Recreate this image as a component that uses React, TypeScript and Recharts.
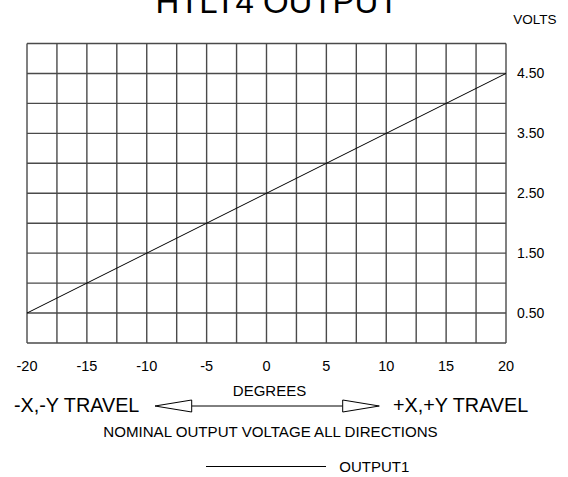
import { LineChart, Line, XAxis, YAxis, CartesianGrid } from 'recharts'

// degrees of travel and the output voltage read at each
const degrees = [-20, -15, -10, -5, 0, 5, 10, 15, 20]
const output1 = [0.5, 1.0, 1.5, 2.0, 2.5, 3.0, 3.5, 4.0, 4.5]

// grid lines every 2.5 deg / 0.5 V, labels only on some of them
const xTicks = [-20, -17.5, -15, -12.5, -10, -7.5, -5, -2.5, 0, 2.5, 5, 7.5, 10, 12.5, 15, 17.5, 20]
const yTicks = [0, 0.5, 1, 1.5, 2, 2.5, 3, 3.5, 4, 4.5, 5]
const xLabels = [-20, -15, -10, -5, 0, 5, 10, 15, 20]
const yLabels = [0.5, 1.5, 2.5, 3.5, 4.5]

const seriesName = 'OUTPUT1'
const title = 'HTLT4 OUTPUT'

const FONT = '"Liberation Sans", Arial, sans-serif'

const data = degrees.map((d, i) => ({ deg: d, out: output1[i] }))

export default function App() {
  return (
    <div style={{ position: 'absolute', left: 0, top: 0, width: 568, height: 477, background: '#fff', fontFamily: FONT }}>
      <LineChart
        width={568}
        height={477}
        data={data}
        margin={{ top: 43.5, left: 27, right: 0, bottom: 104 }}
      >
        <CartesianGrid stroke="#4a4a4a" strokeWidth={1.4} />
        <XAxis
          dataKey="deg"
          type="number"
          domain={[-20, 20]}
          ticks={xTicks}
          interval={0}
          axisLine={false}
          tickLine={false}
          tickSize={0}
          tickMargin={17.5}
          height={30}
          tick={{ fill: '#000', fontSize: 14.5, fontFamily: FONT }}
          tickFormatter={(v: number) => (xLabels.includes(v) ? String(v) : '')}
        />
        <YAxis
          orientation="right"
          type="number"
          domain={[0, 5]}
          ticks={yTicks}
          interval={0}
          axisLine={false}
          tickLine={false}
          tickSize={0}
          tickMargin={11}
          width={62}
          tick={{ fill: '#000', fontSize: 14, fontFamily: FONT, textAnchor: 'start' }}
          tickFormatter={(v: number) => (yLabels.includes(v) ? v.toFixed(2) : '')}
        />
        <Line
          type="linear"
          dataKey="out"
          name={seriesName}
          stroke="#000"
          strokeWidth={1}
          dot={false}
          isAnimationActive={false}
        />
      </LineChart>
      <svg
        width={568}
        height={477}
        style={{ position: 'absolute', left: 0, top: 0, pointerEvents: 'none' }}
        fontFamily={FONT}
      >
        <text x={277} y={13.3} fontSize={33} textAnchor="middle" fill="#000">{title}</text>
        <text x={535} y={24} fontSize={13.5} textAnchor="middle" fill="#000">VOLTS</text>
        <text x={269.5} y={396} fontSize={15} textAnchor="middle" fill="#000">DEGREES</text>
        <text x={14} y={412.3} fontSize={19.8} fill="#000">-X,-Y TRAVEL</text>
        <text x={393} y={412.3} fontSize={19.8} fill="#000">+X,+Y TRAVEL</text>
        <line x1={191.7} y1={406} x2={342.7} y2={406} stroke="#000" strokeWidth={1} />
        <polygon points="155,406 191.7,400 191.7,412" fill="#fff" stroke="#000" strokeWidth={1} />
        <polygon points="379.3,406 342.7,400 342.7,412" fill="#fff" stroke="#000" strokeWidth={1} />
        <text x={270.5} y={436.7} fontSize={15.1} textAnchor="middle" fill="#000">NOMINAL OUTPUT VOLTAGE ALL DIRECTIONS</text>
        <line x1={206} y1={466.5} x2={326} y2={466.5} stroke="#000" strokeWidth={1} />
        <text x={339.3} y={471.7} fontSize={15} fill="#000">{seriesName}</text>
      </svg>
    </div>
  )
}
